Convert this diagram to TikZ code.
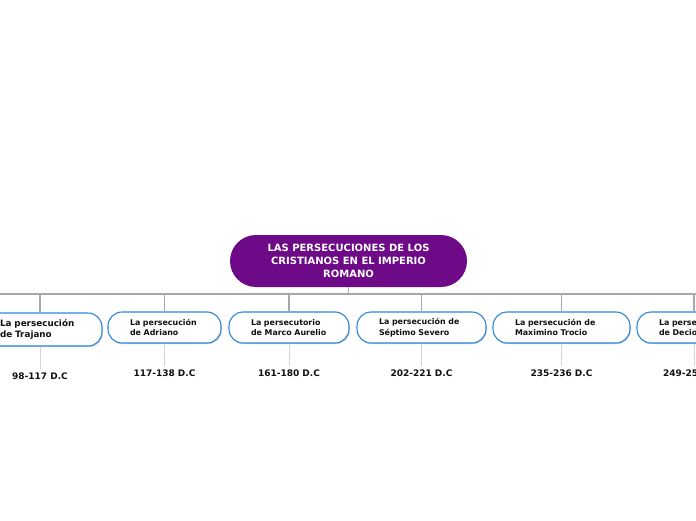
\documentclass[tikz,border=0pt]{standalone}
\usepackage{fontspec}
\setmainfont{DejaVu Sans}
\usetikzlibrary{shadows}
\definecolor{rootpurple}{HTML}{6E0A88}
\definecolor{boxblue}{HTML}{2F86DE}
\definecolor{busgray}{HTML}{A8A8A8}
\definecolor{tailgray}{HTML}{D4D4D4}
\definecolor{txtdark}{HTML}{111111}
\begin{document}
\begin{tikzpicture}[x=1pt,y=-1pt,
  rootbox/.style={fill=rootpurple, rounded corners=26pt, minimum width=237pt,
    minimum height=52pt, text=white, font=\bfseries\fontsize{10}{13}\selectfont,
    align=center, inner sep=0pt},
  childbox/.style={draw=boxblue, line width=1.1pt, fill=white, rounded corners=14pt,
    minimum height=31pt, inner xsep=22pt, inner ysep=0pt, align=left, text=txtdark,
    font=\bfseries\fontsize{7.9}{10.5}\selectfont,
    drop shadow={shadow xshift=0.8pt, shadow yshift=-1.2pt, fill=black, opacity=0.18}},
  datelabel/.style={font=\bfseries\fontsize{9}{10}\selectfont, text=txtdark, inner sep=3pt},
  busline/.style={draw=busgray, line width=1.8pt},
  tailline/.style={draw=tailgray, line width=0.8pt}]
\useasboundingbox (0,0) rectangle (696,520);
\fill[white] (0,0) rectangle (696,520);

\coordinate (busL) at (0,294);
\coordinate (busR) at (696,294);

\node[rootbox] (root) at (348.5,261) {LAS PERSECUCIONES DE LOS\\CRISTIANOS EN EL IMPERIO\\ROMANO};

\node[childbox, text width=80pt, minimum height=33pt, font=\bfseries\fontsize{8.8}{11}\selectfont] (c1) at (40,329.5) {La persecución\\de Trajano};
\node[childbox, text width=69pt] (c2) at (164.5,327.5) {La persecución\\de Adriano};
\node[childbox, text width=76pt] (c3) at (289,327.5) {La persecutorio\\de Marco Aurelio};
\node[childbox, text width=85pt] (c4) at (421.5,327.5) {La persecución de\\Séptimo Severo};
\node[childbox, text width=93pt] (c5) at (561.5,327.5) {La persecución de\\Maximino Trocio};
\node[childbox, text width=70pt] (c6) at (694,327.5) {La persecución\\de Decio};

\draw[busline] (busL) -- (busR);
\draw[busline] (root.south) -- (root.south |- busL);
\foreach \c in {c1,c2,c3,c4,c5,c6}{
  \draw[busline] (\c.north |- busL) -- (\c.north);
}

\node[datelabel] (d1) at (40,376) {98-117 D.C};
\node[datelabel] (d2) at (164.5,373) {117-138 D.C};
\node[datelabel] (d3) at (289,373) {161-180 D.C};
\node[datelabel] (d4) at (421.5,373) {202-221 D.C};
\node[datelabel] (d5) at (561.5,373) {235-236 D.C};
\node[datelabel] (d6) at (694,373) {249-251 D.C};

\foreach \i in {1,...,6}{
  \draw[tailline] (c\i.south) -- (d\i.north);
}
\end{tikzpicture}
\end{document}
